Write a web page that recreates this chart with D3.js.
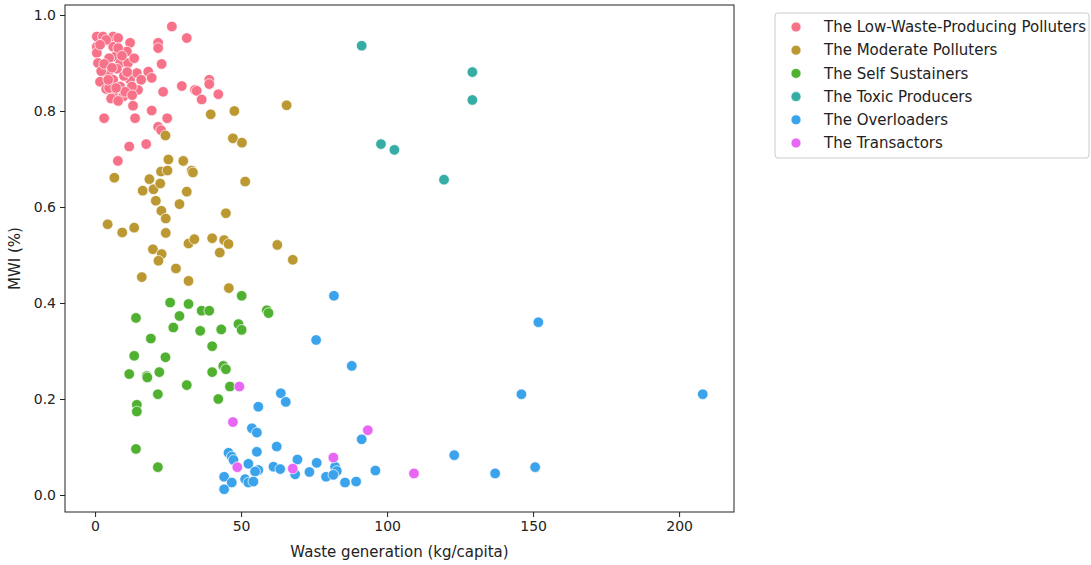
<!DOCTYPE html>
<html>
<head>
<meta charset="utf-8">
<script src="https://cdn.jsdelivr.net/npm/d3@7"></script>
<style>
  body { margin: 0; background: #fff; }
  text { font-family: "DejaVu Sans", sans-serif; fill: #222; }
</style>
</head>
<body>
<div id="chart"></div>
<script>
// cluster names, in legend order
const groups = [
  "The Low-Waste-Producing Polluters",
  "The Moderate Polluters",
  "The Self Sustainers",
  "The Toxic Producers",
  "The Overloaders",
  "The Transactors"
];
const colors = ["#f77189", "#bb9832", "#50b131", "#36ada4", "#3ba3ec", "#e866f4"];

// [waste generation (kg/capita), MWI]
const lowWaste = [
  [0.6, 0.955], [2.7, 0.955], [6.2, 0.955], [0.6, 0.934], [0.6, 0.921], [1.0, 0.900],
  [6.2, 0.934], [6.8, 0.913], [8.6, 0.900], [12.0, 0.942], [10.9, 0.924], [11.3, 0.900],
  [4.5, 0.879], [1.7, 0.861], [6.2, 0.865], [8.6, 0.851], [6.2, 0.838], [9.6, 0.830],
  [12.0, 0.865], [14.3, 0.879], [14.7, 0.844], [12.6, 0.851], [18.2, 0.882], [19.4, 0.869],
  [26.3, 0.976], [31.4, 0.952], [21.6, 0.942], [21.6, 0.931], [22.8, 0.898], [29.7, 0.852],
  [23.3, 0.840], [34.2, 0.844], [39.1, 0.865], [39.1, 0.856], [34.8, 0.842], [36.5, 0.824],
  [42.2, 0.835], [13.0, 0.811], [13.7, 0.785], [19.4, 0.801], [3.1, 0.785], [24.7, 0.785],
  [21.6, 0.767], [22.6, 0.760], [17.5, 0.731], [11.7, 0.726], [7.8, 0.696], [3.8, 0.948],
  [4.8, 0.910], [7.5, 0.888], [9.9, 0.873], [3.8, 0.846], [5.5, 0.826], [7.9, 0.821],
  [10.3, 0.840], [2.1, 0.883], [15.8, 0.865], [13.4, 0.910], [7.9, 0.952], [4.8, 0.848],
  [1.7, 0.938], [7.9, 0.931], [9.2, 0.915], [4.5, 0.865], [7.2, 0.848], [11.0, 0.881],
  [12.7, 0.833], [3.1, 0.898], [5.8, 0.890]
];
const moderate = [
  [39.6, 0.793], [47.7, 0.800], [24.1, 0.749], [47.2, 0.743], [50.3, 0.734], [25.1, 0.699],
  [30.2, 0.696], [22.6, 0.674], [24.8, 0.676], [33.1, 0.676], [33.5, 0.672], [6.6, 0.661],
  [51.4, 0.653], [18.6, 0.658], [16.3, 0.634], [20.0, 0.637], [22.3, 0.649], [31.4, 0.632],
  [20.8, 0.613], [28.9, 0.606], [22.7, 0.592], [24.2, 0.576], [44.8, 0.587], [4.3, 0.564],
  [9.3, 0.547], [13.4, 0.557], [24.2, 0.546], [32.0, 0.524], [34.0, 0.533], [40.1, 0.535],
  [44.2, 0.531], [45.7, 0.523], [42.7, 0.505], [62.4, 0.521], [67.7, 0.490], [19.8, 0.512],
  [22.8, 0.502], [21.7, 0.488], [27.7, 0.472], [16.0, 0.454], [32.0, 0.446], [45.8, 0.431],
  [65.6, 0.812]
];
const selfSustainers = [
  [50.2, 0.415], [25.7, 0.401], [32.0, 0.398], [14.0, 0.369], [28.9, 0.373], [36.5, 0.384],
  [39.1, 0.384], [58.8, 0.385], [59.4, 0.379], [26.8, 0.349], [36.0, 0.342], [43.2, 0.345],
  [49.1, 0.356], [50.2, 0.344], [19.1, 0.326], [40.1, 0.310], [13.4, 0.290], [24.1, 0.287],
  [11.7, 0.252], [17.7, 0.248], [17.9, 0.245], [22.0, 0.256], [40.1, 0.256], [43.9, 0.269],
  [44.8, 0.262], [31.4, 0.229], [46.2, 0.226], [21.5, 0.210], [42.2, 0.200], [14.3, 0.188],
  [14.3, 0.174], [14.0, 0.096], [21.5, 0.058]
];
const toxic = [
  [91.3, 0.936], [129.2, 0.881], [129.2, 0.823], [97.9, 0.731], [102.5, 0.719], [119.5, 0.657]
];
const overloaders = [
  [151.8, 0.360], [146.0, 0.210], [208.1, 0.210], [123.0, 0.083], [137.0, 0.045], [150.7, 0.058],
  [87.9, 0.269], [55.9, 0.184], [63.6, 0.212], [65.3, 0.194], [53.7, 0.139], [55.4, 0.130],
  [91.3, 0.116], [45.7, 0.088], [46.8, 0.080], [47.4, 0.073], [55.4, 0.090], [62.2, 0.101],
  [69.3, 0.074], [75.9, 0.067], [52.5, 0.065], [55.9, 0.052], [54.8, 0.049], [61.1, 0.059],
  [63.4, 0.054], [68.5, 0.043], [73.4, 0.048], [82.2, 0.059], [82.8, 0.050], [79.1, 0.038],
  [81.6, 0.042], [96.0, 0.051], [44.2, 0.038], [46.8, 0.026], [44.2, 0.012], [51.4, 0.033],
  [52.5, 0.026], [54.2, 0.028], [85.6, 0.026], [89.4, 0.028], [75.7, 0.323], [81.8, 0.415]
];
const transactors = [
  [49.4, 0.226], [47.2, 0.152], [48.7, 0.058], [67.7, 0.055], [81.6, 0.078], [93.4, 0.135],
  [109.2, 0.045]
];
const seriesData = [lowWaste, moderate, selfSustainers, toxic, overloaders, transactors];

const xTicks = [0, 50, 100, 150, 200];
const yTicks = [0.0, 0.2, 0.4, 0.6, 0.8, 1.0];

const width = 1091, height = 565;
const margin = { top: 5, right: 357, bottom: 53, left: 65 };
const innerW = width - margin.left - margin.right;
const innerH = height - margin.top - margin.bottom;

const svg = d3.select("#chart")
  .append("svg")
  .attr("width", width)
  .attr("height", height);

const g = svg.append("g")
  .attr("transform", `translate(${margin.left},${margin.top})`);

const x = d3.scaleLinear().domain([-10.3, 218.8]).range([0, innerW]);
const y = d3.scaleLinear().domain([-0.0354, 1.0208]).range([innerH, 0]);

// points
seriesData.forEach((pts, i) => {
  g.append("g").selectAll("circle")
    .data(pts)
    .join("circle")
    .attr("cx", d => x(d[0]))
    .attr("cy", d => y(d[1]))
    .attr("r", 5.3)
    .attr("fill", colors[i])
    .attr("stroke", "#fff")
    .attr("stroke-width", 0.7);
});

// axes
const xAxis = g.append("g")
  .attr("transform", `translate(0,${innerH})`)
  .call(d3.axisBottom(x).tickValues(xTicks).tickFormat(d3.format("d")).tickSize(5).tickPadding(4));
const yAxis = g.append("g")
  .call(d3.axisLeft(y).tickValues(yTicks).tickFormat(d3.format(".1f")).tickSize(5).tickPadding(4));
[xAxis, yAxis].forEach(a => {
  a.select(".domain").remove();
  a.selectAll("line").attr("stroke", "#222").attr("stroke-width", 1);
  a.selectAll("text").style("font-size", "14px").style("font-family", "DejaVu Sans").attr("fill", "#222");
});

// frame
g.append("rect")
  .attr("x", 0).attr("y", 0)
  .attr("width", innerW).attr("height", innerH)
  .attr("fill", "none")
  .attr("stroke", "#222")
  .attr("stroke-width", 1);

// axis labels
svg.append("text")
  .attr("x", margin.left + innerW / 2)
  .attr("y", 557)
  .attr("text-anchor", "middle")
  .style("font-size", "15px")
  .text("Waste generation (kg/capita)");

svg.append("text")
  .attr("transform", `translate(20,${margin.top + innerH / 2}) rotate(-90)`)
  .attr("text-anchor", "middle")
  .style("font-size", "15px")
  .text("MWI (%)");

// legend
const legend = svg.append("g").attr("transform", "translate(775,13)");
legend.append("rect")
  .attr("width", 314).attr("height", 145)
  .attr("rx", 3)
  .attr("fill", "#fff")
  .attr("stroke", "#ccc");
groups.forEach((name, i) => {
  const row = legend.append("g").attr("transform", `translate(0,${14 + i * 23.2})`);
  row.append("circle")
    .attr("cx", 21).attr("cy", 0).attr("r", 5)
    .attr("fill", colors[i]).attr("stroke", "#fff").attr("stroke-width", 0.7);
  row.append("text")
    .attr("x", 49).attr("y", 0)
    .attr("dy", "0.35em")
    .style("font-size", "15px")
    .text(name);
});
</script>
</body>
</html>
